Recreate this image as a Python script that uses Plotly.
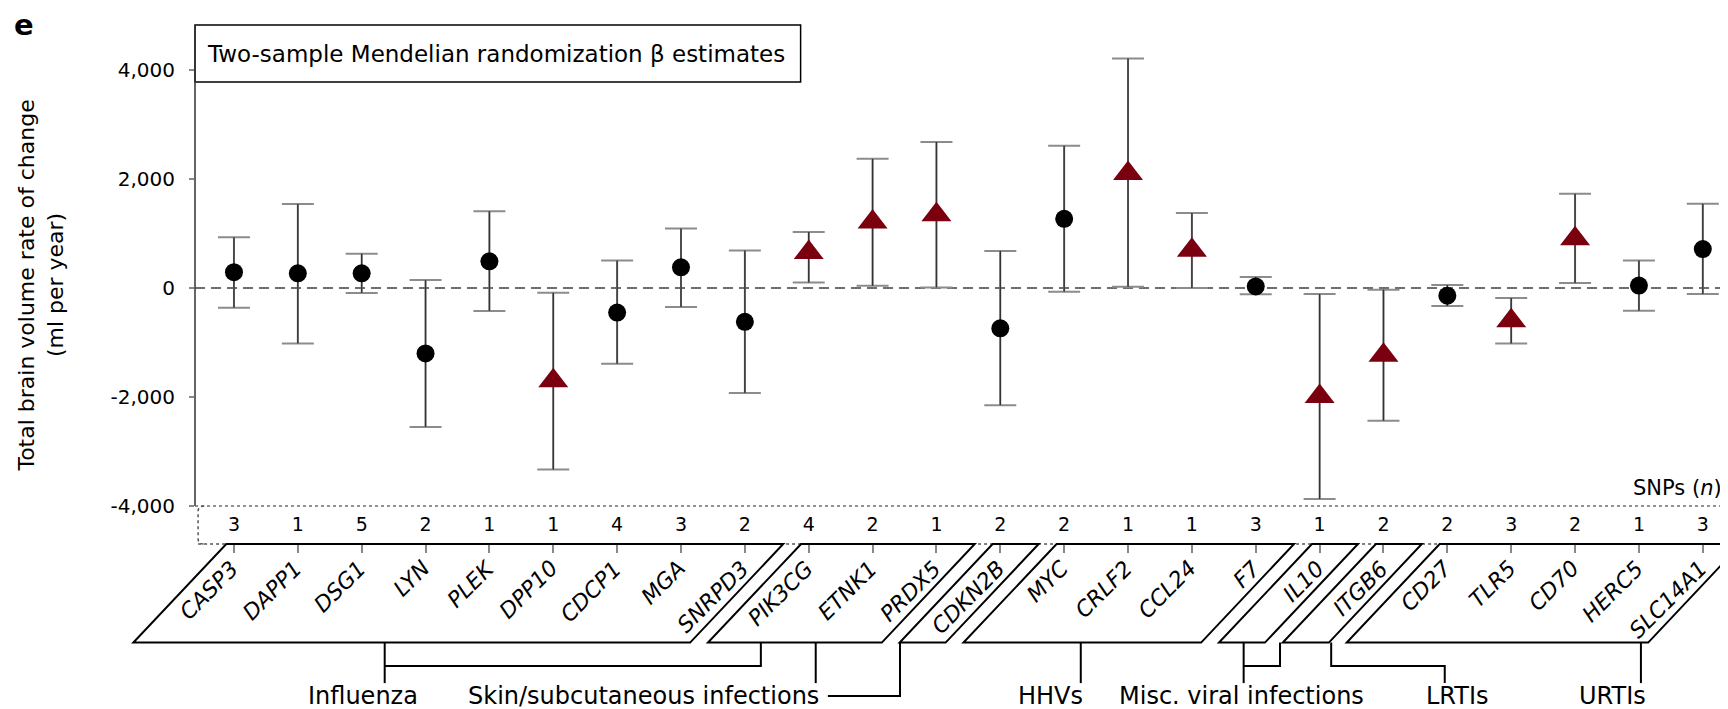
import plotly.graph_objects as go

# Two-sample MR beta estimates per gene (ml per year)
genes = ['CASP3', 'DAPP1', 'DSG1', 'LYN', 'PLEK', 'DPP10', 'CDCP1', 'MGA', 'SNRPD3',
         'PIK3CG', 'ETNK1', 'PRDX5', 'CDKN2B', 'MYC', 'CRLF2', 'CCL24', 'F7',
         'IL10', 'ITGB6', 'CD27', 'TLR5', 'CD70', 'HERC5', 'SLC14A1']
beta = [290, 270, 270, -1200, 490, -1700, -450, 380, -620, 650, 1210, 1345, -740,
        1270, 2100, 695, 30, -1990, -1235, -140, -600, 905, 45, 715]
ci_lo = [-360, -1020, -90, -2550, -420, -3330, -1390, -350, -1925, 100, 40, 10, -2150,
         -70, 25, 0, -115, -3870, -2435, -330, -1020, 90, -415, -110]
ci_hi = [930, 1540, 630, 145, 1410, -85, 505, 1090, 690, 1030, 2370, 2680, 680,
         2610, 4210, 1375, 200, -110, -30, 55, -185, 1730, 505, 1545]
snps = [3, 1, 5, 2, 1, 1, 4, 3, 2, 4, 2, 1, 2, 2, 1, 1, 3, 1, 2, 2, 3, 2, 1, 3]
significant = [0, 0, 0, 0, 0, 1, 0, 0, 0, 1, 1, 1, 0, 0, 1, 1, 0, 1, 1, 0, 1, 1, 0, 0]

y_tickvals = [-4000, -2000, 0, 2000, 4000]
y_ticktext = ['-4,000', '-2,000', '0', '2,000', '4,000']

# gene boxes (first index, last index) under the axis
boxes = [(0, 8), (9, 11), (12, 12), (13, 16), (17, 17), (18, 18), (19, 23)]
group_labels = ['Influenza', 'Skin/subcutaneous infections', 'HHVs',
                'Misc. viral infections', 'LRTIs', 'URTIs']

FONT = 'DejaVu Sans'
RED = '#7a0010'
XR = [-0.61, 23.52]
YR = [-4697, 4826]


def px(i):
    # category index -> paper x
    return (i - XR[0]) / (XR[1] - XR[0])


def add_err_trace(fig, idx, symbol, color, size):
    err = dict(type='data', symmetric=False,
               array=[ci_hi[i] - beta[i] for i in idx],
               arrayminus=[beta[i] - ci_lo[i] for i in idx])
    # light grey caps first, darker stems + markers on top
    fig.add_trace(go.Scatter(
        x=idx, y=[beta[i] for i in idx], mode='markers',
        marker=dict(size=2, opacity=0),
        error_y=dict(err, color='#8c8c8c', thickness=2, width=16),
        showlegend=False, hoverinfo='skip'))
    fig.add_trace(go.Scatter(
        x=idx, y=[beta[i] for i in idx], mode='markers',
        marker=dict(symbol=symbol, color=color, size=size, line=dict(width=0)),
        error_y=dict(err, color='#333333', thickness=1.4, width=0),
        showlegend=False, hoverinfo='skip'))


fig = go.Figure()
idx_circ = [i for i in range(len(genes)) if not significant[i]]
idx_tri = [i for i in range(len(genes)) if significant[i]]
add_err_trace(fig, idx_circ, 'circle', 'black', 18)
add_err_trace(fig, idx_tri, 'triangle-up', RED, 26)

# SNP counts row
fig.add_trace(go.Scatter(x=list(range(len(genes))), y=[-4367] * len(genes), mode='text',
                         text=[str(s) for s in snps], textfont=dict(family=FONT, size=19, color='black'),
                         showlegend=False, hoverinfo='skip'))

shapes = []
# zero line
shapes.append(dict(type='line', xref='paper', yref='y', x0=0, x1=1, y0=0, y1=0,
                   line=dict(color='#6e6e6e', width=2, dash='10px,6px'), layer='below'))
# y axis line (stops at -4000)
shapes.append(dict(type='line', xref='paper', yref='y', x0=0, x1=0, y0=-4000, y1=YR[1],
                   line=dict(color='#333', width=1.5)))
# SNP box
shapes.append(dict(type='line', xref='paper', yref='y', x0=0, x1=1, y0=-4000, y1=-4000,
                   line=dict(color='#6e6e6e', width=1.5, dash='3px,3px')))
shapes.append(dict(type='path', xref='paper', yref='paper',
                   path='M 0.006,0.073 Q 0.002,0.073 0.002,0.063 L 0.002,0.01 Q 0.002,0 0.006,0',
                   line=dict(color='#555', width=1.5, dash='3px,3px')))
shapes.append(dict(type='line', xref='paper', yref='paper', x0=0.002, x1=1, y0=0, y1=0,
                   line=dict(color='#555', width=1.5, dash='3px,3px')))
# title box
shapes.append(dict(type='rect', xref='paper', yref='paper', x0=0, x1=0.393, y0=0.890, y1=1,
                   line=dict(color='black', width=1.5), fillcolor='white', layer='below'))

# parallelogram boxes
Y_BOT = -0.19
SHIFT = 1.456
for a, b in boxes:
    tl, tr = a - 0.12, b + 0.6
    path = 'M {:.4f},0 L {:.4f},0 L {:.4f},{} L {:.4f},{} Z'.format(
        px(tl), px(tr), px(tr - SHIFT), Y_BOT, px(tl - SHIFT), Y_BOT)
    shapes.append(dict(type='path', xref='paper', yref='paper', path=path,
                       line=dict(color='black', width=2)))

# connector lines (index, paper y)
Y_MID, Y_LAB, Y_TXT = -0.235, -0.268, -0.293
connectors = [
    [(2.36, Y_BOT), (2.36, Y_LAB)],
    [(2.36, Y_MID), (8.25, Y_MID), (8.25, Y_BOT)],
    [(9.11, Y_BOT), (9.11, Y_LAB)],
    [(9.30, Y_TXT), (10.43, Y_TXT), (10.43, Y_BOT)],
    [(13.26, Y_BOT), (13.26, Y_LAB)],
    [(15.81, Y_BOT), (15.81, Y_LAB)],
    [(15.81, Y_MID), (16.38, Y_MID), (16.38, Y_BOT)],
    [(17.18, Y_BOT), (17.18, Y_MID), (18.96, Y_MID), (18.96, Y_LAB)],
    [(22.03, Y_BOT), (22.03, Y_LAB)],
]
for pts in connectors:
    path = 'M ' + ' L '.join('{:.4f},{:.4f}'.format(px(x), y) for x, y in pts)
    shapes.append(dict(type='path', xref='paper', yref='paper', path=path,
                       line=dict(color='black', width=2)))

annotations = []
# gene names, slanted, hanging from each tick
for i, g in enumerate(genes):
    annotations.append(dict(text='<i>{}</i>'.format(g), xref='x', yref='paper', x=i, y=0,
                            xanchor='right', yanchor='top', textangle=-45,
                            xshift=12, yshift=-9, showarrow=False,
                            font=dict(family=FONT, size=22, color='black')))

label_x = [2.02, 9.19, 12.78, 15.77, 19.16, 21.58]
label_anchor = ['center', 'right', 'center', 'center', 'center', 'center']
for t, x, xa in zip(group_labels, label_x, label_anchor):
    annotations.append(dict(text=t, xref='paper', yref='paper', x=px(x), y=-0.293,
                            xanchor=xa, yanchor='middle', showarrow=False,
                            font=dict(family=FONT, size=24, color='black')))

annotations.append(dict(text='Two-sample Mendelian randomization β estimates', xref='paper', yref='paper',
                        x=0.0065, y=0.944, xanchor='left', yanchor='middle', showarrow=False,
                        font=dict(family=FONT, size=23, color='black')))
annotations.append(dict(text='SNPs (<i>n</i>)', xref='paper', yref='y', x=0.992, y=-3670,
                        xanchor='right', yanchor='middle', showarrow=False,
                        font=dict(family=FONT, size=21, color='black')))
annotations.append(dict(text='Total brain volume rate of change<br>(ml per year)', xref='paper', yref='paper',
                        x=-0.0996, y=0.497, xanchor='center', yanchor='middle', textangle=-90,
                        showarrow=False, font=dict(family=FONT, size=22, color='black')))
annotations.append(dict(text='<b>e</b>', xref='paper', yref='paper', x=-0.119, y=1.036,
                        xanchor='left', yanchor='top', showarrow=False,
                        font=dict(family=FONT, size=29, color='black')))

fig.update_layout(
    width=1728, height=709,
    margin=dict(l=187, r=0, t=17, b=173),
    plot_bgcolor='white', paper_bgcolor='white',
    shapes=shapes, annotations=annotations,
    xaxis=dict(range=XR, tickvals=list(range(len(genes))), showticklabels=False,
               ticks='outside', ticklen=8, tickcolor='#888', tickwidth=1.5,
               showgrid=False, zeroline=False, showline=False),
    yaxis=dict(range=YR, tickvals=y_tickvals, ticktext=y_ticktext,
               tickfont=dict(family=FONT, size=20, color='black'),
               ticks='outside', ticklen=5, tickcolor='#888', tickwidth=1.5,
               ticklabelstandoff=10,
               showgrid=False, zeroline=False, showline=False),
)

fig.write_html('out.html')
